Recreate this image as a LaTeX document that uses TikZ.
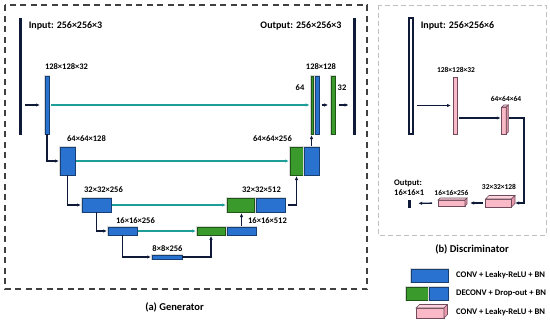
\documentclass[tikz,border=0pt]{standalone}
\usepackage{fontspec}
\setmainfont{Carlito}
\usepackage{tikz}
\usetikzlibrary{arrows.meta, positioning, calc}

\definecolor{encblue}{HTML}{2A72CF}
\definecolor{decgreen}{HTML}{3A9A2C}
\definecolor{skipteal}{HTML}{1F9E99}
\definecolor{barnavy}{HTML}{0E1A38}
\definecolor{boxpink}{HTML}{F9B9C7}
\definecolor{boxpinktop}{HTML}{FCD3DC}
\definecolor{boxpinkside}{HTML}{E99AAD}
\definecolor{pinkline}{HTML}{6E4A5C}

\tikzset{
  blk/.style={rectangle, inner sep=0pt, outer sep=0pt, line width=0.4pt},
  enc/.style={blk, fill=encblue, draw=encblue!55!black, preaction={draw=gray!30, line width=1.8pt}},
  dec/.style={blk, fill=decgreen, draw=decgreen!55!black, preaction={draw=gray!30, line width=1.8pt}},
  bar/.style={blk, fill=barnavy, draw=barnavy},
  pinkfront/.style={blk, fill=boxpink, draw=pinkline, line width=0.6pt},
  arr/.style={-{Latex[length=4pt,width=3.4pt]}, line width=1.3pt, barnavy},
  skip/.style={-{Latex[length=4pt,width=3.4pt]}, line width=1.2pt, skipteal},
  dimG/.style={font=\fontsize{8.5}{9}\selectfont\bfseries, inner sep=0pt},
  dimD/.style={font=\fontsize{7.5}{8}\selectfont\bfseries, inner sep=0pt},
  ttl/.style={font=\fontsize{10}{11}\selectfont\bfseries, inner sep=0pt},
  captxt/.style={font=\fontsize{10.5}{12}\selectfont\bfseries, inner sep=0pt},
  lgd/.style={font=\fontsize{8.6}{9}\selectfont\bfseries, inner sep=0pt, anchor=west},
}

% top face and side face of a pink box
\newcommand{\pinkdepth}[2]{%
  \filldraw[fill=boxpinktop, draw=pinkline, line width=0.6pt] (#1.north west) -- ++(#2,-#2) -- ($(#1.north east)+(#2,-#2)$) -- (#1.north east) -- cycle;
  \filldraw[fill=boxpinkside, draw=pinkline, line width=0.6pt] (#1.north east) -- ++(#2,-#2) -- ($(#1.south east)+(#2,-#2)$) -- (#1.south east) -- cycle;
}

\begin{document}
\begin{tikzpicture}[x=1pt, y=-1pt]
    \useasboundingbox (0,0) rectangle (550,327);

    % Frames
    \draw[dash pattern=on 6pt off 4.5pt, line width=1.1pt, black!75] (5,5) rectangle (367,289);
    \draw[dash pattern=on 5pt off 3pt, line width=0.9pt, black!25] (378,5) rectangle (546,235);
    \node[captxt] (capG) at (174.5,307) {(a) Generator};
    \node[captxt] (capD) at (472,249) {(b) Discriminator};

    % Generator: input, encoder
    \node[bar, minimum width=2.6pt, minimum height=116pt] (inG) at (20,76) {};
    \node[ttl] (lblInG) at (65.5,26) {Input: 256×256×3};
    \node[enc, minimum width=4pt, minimum height=58pt] (e1) at (47,105) {};
    \node[enc, minimum width=15pt, minimum height=28pt] (e2) at (67.5,161) {};
    \node[enc, minimum width=29pt, minimum height=14pt] (e3) at (96.5,205) {};
    \node[enc, minimum width=29pt, minimum height=7.5pt] (e4) at (122.5,231) {};
    \node[enc, minimum width=30pt, minimum height=4pt] (e5) at (167,257) {};

    \node[dimG] (lblE1) at (66.5,67) {128×128×32};
    \node[dimG] (lblE2) at (86.5,139) {64×64×128};
    \node[dimG] (lblE3) at (103.5,190) {32×32×256};
    \node[dimG] (lblE4) at (135.5,220.5) {16×16×256};
    \node[dimG] (lblE5) at (167.5,248.5) {8×8×256};

    % Generator: decoder
    \node[dec, minimum width=28pt, minimum height=7.5pt] (d4g) at (211,231) {};
    \node[enc, minimum width=29pt, minimum height=7.5pt] (d4b) at (241.5,231) {};
    \node[dec, minimum width=27pt, minimum height=14pt] (d3g) at (240.5,205) {};
    \node[enc, minimum width=29pt, minimum height=14pt] (d3b) at (270.5,205) {};
    \node[dec, minimum width=13pt, minimum height=28pt] (d2g) at (296.5,161) {};
    \node[enc, minimum width=15pt, minimum height=28pt] (d2b) at (311.5,161) {};
    \node[dec, minimum width=2.6pt, minimum height=58pt] (d1g) at (312,105) {};
    \node[enc, minimum width=3.6pt, minimum height=58pt] (d1b) at (317,105) {};
    \node[dec, minimum width=3.6pt, minimum height=58pt] (o2) at (333,105) {};
    \node[bar, minimum width=2.6pt, minimum height=116pt] (outG) at (354,76) {};

    \node[dimG] (lblD4) at (267.5,221) {16×16×512};
    \node[dimG] (lblD3) at (261.5,190) {32×32×512};
    \node[dimG] (lblD2) at (272.5,139) {64×64×256};
    \node[dimG] (lblD1) at (321,67) {128×128};
    \node[dimG] (lblD1c) at (300,88) {64};
    \node[dimG] (lblO2c) at (342,88) {32};
    \node[ttl] (lblOutG) at (301,26) {Output: 256×256×3};

    % Generator: down path
    \draw[arr, shorten <=4pt, shorten >=5pt] (inG.east |- e1.west) -- (e1.west);
    \draw[arr, shorten >=1pt] (e1.south) |- (e2.west);
    \draw[arr, shorten >=1pt] (e2.south) |- (e3.west);
    \draw[arr, shorten >=1pt] (e3.south) |- (e4.west);
    \draw[arr, shorten >=1pt] (e4.south) |- (e5.west);

    % Generator: up path
    \draw[arr, shorten >=1pt] (e5.east) -| (d4g.south);
    \draw[arr, shorten <=1pt, shorten >=1pt] (d4b.north) -- (d4b.north |- d3g.south);
    \draw[arr, shorten <=3pt, shorten >=1pt] (d3b.east) -| (d2g.south);
    \draw[arr, shorten <=1pt, shorten >=1pt] (d2b.north) -- (d2b.north |- d1b.south);
    \draw[arr, shorten <=3pt, shorten >=3pt] (d1b.east) -- (o2.west);
    \draw[arr, shorten <=4pt, shorten >=4pt] (o2.east) -- (outG.west |- o2.east);

    % Skip connections
    \draw[skip, shorten <=2pt, shorten >=1pt] (e1.east) -- (d1g.west);
    \draw[skip, shorten <=1pt, shorten >=1pt] (e2.east) -- (d2g.west);
    \draw[skip, shorten <=1pt, shorten >=1pt] (e3.east) -- (d3g.west);
    \draw[skip, shorten <=1pt, shorten >=1pt] (e4.east) -- (d4g.west);

    % Discriminator
    \node[blk, draw=barnavy, fill=white, line width=1.8pt, minimum width=4.6pt, minimum height=116pt] (inD) at (411,76) {};
    \node[ttl] (lblInD) at (457.5,26) {Input: 256×256×6};
    \node[pinkfront, minimum width=4pt, minimum height=57pt] (p1) at (455,105.5) {};
    \node[pinkfront, minimum width=4.5pt, minimum height=27pt] (p2) at (504,120.5) {};
    \pinkdepth{p2}{2}
    \node[pinkfront, minimum width=26pt, minimum height=8pt] (p3) at (498.5,203) {};
    \pinkdepth{p3}{3.5}
    \node[pinkfront, minimum width=27pt, minimum height=6pt] (p4) at (451.5,203) {};
    \pinkdepth{p4}{2}
    \node[bar, minimum width=2.4pt, minimum height=7pt] (outD) at (409,203.5) {};
    \coordinate (cD) at (524,118);

    \node[dimD] (lblP1) at (456,70) {128×128×32};
    \node[dimD] (lblP2) at (506,99) {64×64×64};
    \node[dimD] (lblP3) at (499,187) {32×32×128};
    \node[dimD] (lblP4) at (451.5,193) {16×16×256};
    \node[dimG, anchor=west] (lblOutD) at (394,183) {Output:};
    \node[dimG, anchor=west] (lblOutD2) at (394,193) {16×16×1};

    \draw[arr, shorten <=4pt, shorten >=2pt] (inD.east |- p1.west) -- (p1.west);
    \draw[arr, shorten <=2pt, shorten >=1pt] (p1.east |- cD) -- (p2.west |- cD);
    \draw[arr, shorten <=3pt] (p2.east |- cD) -- (cD) |- ([xshift=3.5pt]p3.east);
    \draw[arr, shorten <=3pt, shorten >=5pt] (p3.west) -- (p4.east);
    \draw[arr, shorten <=6pt, shorten >=8pt] (p4.west) -- (outD.east);

    % Legend
    \node[enc, minimum width=37pt, minimum height=13pt] (lgEnc) at (429.5,275.5) {};
    \node[dec, minimum width=23pt, minimum height=13pt] (lgDecG) at (417.5,293.5) {};
    \node[enc, minimum width=19pt, minimum height=13pt] (lgDecB) at (438.5,293.5) {};
    \node[pinkfront, minimum width=28pt, minimum height=10pt] (lgPink) at (430,313) {};
    \pinkdepth{lgPink}{3.5}
    \node[lgd] (txEnc) at (456,275.5) {CONV + Leaky-ReLU + BN};
    \node[lgd] (txDec) at (456,293.5) {DECONV + Drop-out + BN};
    \node[lgd] (txPink) at (456,312) {CONV + Leaky-ReLU + BN};
\end{tikzpicture}
\end{document}
